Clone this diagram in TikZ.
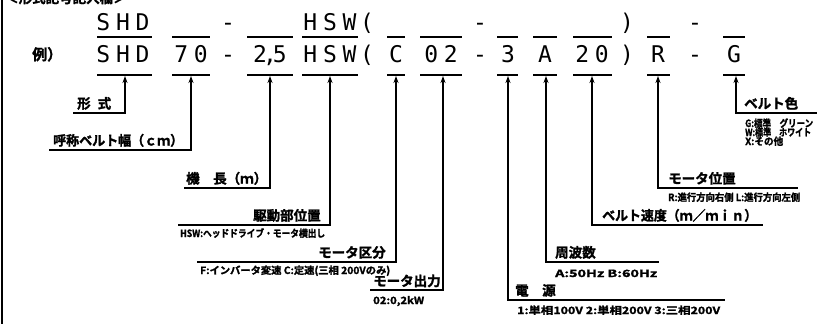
\documentclass[tikz,border=0pt]{standalone}
\usepackage{fontspec}
\usepackage{graphicx}
\usetikzlibrary{arrows.meta}
\newfontfamily\codefont[LetterSpace=25]{DejaVu Sans Mono}
\newfontfamily\jpfont{Noto Sans CJK JP}[BoldFont={* Bold},BoldFeatures={FakeBold=1.6}]
\newcommand{\labfont}{\jpfont\bfseries\fontsize{13.5}{15}\selectfont}
\newcommand{\subfont}{\jpfont\bfseries\fontsize{10}{12}\selectfont}
\newcommand{\fitw}[2]{\resizebox{#1pt}{\height}{#2}}
\begin{document}
\begin{tikzpicture}[x=1pt,y=-1pt,
  code/.style={font=\codefont\fontsize{23}{26}\selectfont, inner sep=0pt, anchor=base},
  lab/.style={font=\labfont, inner sep=0pt, anchor=base west},
  sub/.style={font=\subfont, inner sep=0pt, anchor=base west},
  uline/.style={line width=1.7pt},
  conn/.style={line width=1.3pt, {Stealth[length=7pt,width=5pt]}-},
  border/.style={line width=1.8pt}]
\useasboundingbox (0,0) rectangle (838,324);
% title (cut off at top, as in the reference)
\begin{scope}
\clip (0,0) rectangle (838,324);
\node[lab] (title) at (5,3) {＜形式記号記入欄＞};
\end{scope}
\draw[border] (2,0) -- (2,324);
% example label
\node[lab, font=\jpfont\bfseries\fontsize{15}{17}\selectfont] (rei) at (32,60) {例）};
% top row
\node[code] (aSHD) at (123,30) {SHD};
\node[code] (aM1) at (228,30) {-};
\node[code] (aHSW) at (330,30) {HSW};
\node[code] (aP1) at (367,30) {(};
\node[code] (aM2) at (480,30) {-};
\node[code] (aP2) at (627,30) {)};
\node[code] (aM3) at (695,30) {-};
% second row
\node[code] (bSHD) at (123,62) {SHD};
\node[code] (b70) at (191,62) {70};
\node[code] (bM1) at (228,62) {-};
\node[code] (b25) at (270,62) {2\hspace{-4pt},\hspace{-4pt}5};
\node[code] (bHSW) at (330,62) {HSW};
\node[code] (bP1) at (367,62) {(};
\node[code] (bC) at (396,62) {C};
\node[code] (b02) at (441,62) {02};
\node[code] (bM2) at (480,62) {-};
\node[code] (b3) at (508,62) {3};
\node[code] (bA) at (545,62) {A};
\node[code] (b20) at (592,62) {20};
\node[code] (bP2) at (627,62) {)};
\node[code] (bR) at (658,62) {R};
\node[code] (bM3) at (695,62) {-};
\node[code] (bG) at (734,62) {G};
% underlines
\foreach \a/\b in {97/152,172/210,247/293,302/358,387/405,420/462,497/518,533/557,573/612,647/670,723/745}{
  \draw[uline] (\a,37) -- (\b,37);
  \draw[uline] (\a,75) -- (\b,75);
}
% arrow tips
\coordinate (tSHD) at (125,76);
\coordinate (t70) at (191,76);
\coordinate (t25) at (270,76);
\coordinate (tHSW) at (330,76);
\coordinate (tC) at (396,76);
\coordinate (t02) at (443,76);
\coordinate (t3) at (508,76);
\coordinate (tA) at (546,76);
\coordinate (t20) at (592,76);
\coordinate (tR) at (658,76);
\coordinate (tG) at (736,76);
% line ends
\coordinate (eSHD) at (73,113);
\coordinate (e70) at (49,150);
\coordinate (e25) at (184,188);
\coordinate (eHSW) at (178,225);
\coordinate (eC) at (197,262);
\coordinate (e02) at (370,290);
\coordinate (e3) at (725,300);
\coordinate (eA) at (659,262);
\coordinate (e20) at (763,225);
\coordinate (eR) at (798,188);
\coordinate (eG) at (817,113);
% connectors
\foreach \k in {SHD,70,25,HSW,C,02,3,A,20,R,G}{
  \draw[conn] (t\k) |- (e\k);
}
% labels
\node[lab] (lSHD) at (77,108.5) {形\hspace{7pt}式};
\node[lab] (l70) at (53,145.5) {\fitw{130}{呼称ベルト幅（ｃｍ）}};
\node[lab] (l25) at (186,183.5) {機　長（ｍ）};
\node[lab] (lHSW) at (253,220.5) {駆動部位置};
\node[lab] (lC) at (318,257.5) {モータ区分};
\node[lab] (l02) at (373,286) {モータ出力};
\node[lab] (l3) at (515,295.5) {電　源};
\node[lab] (lA) at (555,257.5) {周波数};
\node[lab] (l20) at (602,220.5) {\fitw{155}{ベルト速度（ｍ／ｍｉｎ）}};
\node[lab] (lR) at (668,183.5) {モータ位置};
\node[lab] (lG) at (744,108.5) {ベルト色};
% sub texts
\node[sub] (sHSW) at (180,237) {\fitw{145}{HSW:ヘッドドライブ・モータ横出し}};
\node[sub] (sC) at (200,274) {\fitw{190}{F:インバータ変速 C:定速(三相 200Vのみ)}};
\node[sub] (s02) at (373,304) {\fitw{51}{02:0,2kW}};
\node[sub] (s3) at (517,314) {\fitw{203}{1:単相100V 2:単相200V 3:三相200V}};
\node[sub] (sA) at (555,277) {\fitw{102}{A:50Hz B:60Hz}};
\node[sub] (sR) at (668,201) {\fitw{132}{R:進行方向右側 L:進行方向左側}};
\node[sub] (sG1) at (745,127) {\fitw{68}{G:標準　グリーン}};
\node[sub] (sG2) at (745,136) {\fitw{66}{W:標準　ホワイト}};
\node[sub] (sG3) at (745,145) {\fitw{38}{X:その他}};
\end{tikzpicture}
\end{document}
